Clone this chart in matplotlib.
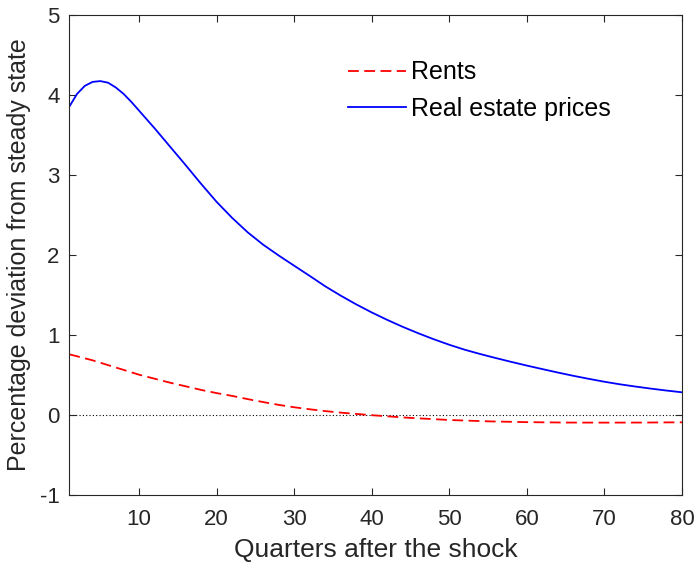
import matplotlib
matplotlib.use("Agg")
import matplotlib.pyplot as plt

# Impulse responses (quarters after the shock)
q_prices = [1, 2, 3, 4, 5, 6, 7, 8, 9, 10, 12, 14, 16, 18, 20, 22, 24, 26, 28, 30,
            32, 34, 36, 38, 40, 42, 44, 46, 48, 50, 52, 54, 56, 58, 60, 62, 64, 66,
            68, 70, 72, 74, 76, 78, 80]
prices = [3.85, 4.01, 4.11, 4.16, 4.17, 4.15, 4.09, 4.01, 3.91, 3.80, 3.58, 3.35,
          3.12, 2.885, 2.66, 2.46, 2.28, 2.125, 1.99, 1.862, 1.735, 1.605, 1.488,
          1.379, 1.278, 1.185, 1.098, 1.018, 0.943, 0.874, 0.812, 0.758, 0.708,
          0.66, 0.614, 0.57, 0.527, 0.486, 0.448, 0.412, 0.38, 0.352, 0.326, 0.302,
          0.28]

q_rents = [1, 2, 4, 6, 8, 10, 12, 14, 16, 18, 20, 22, 24, 26, 28, 30, 32, 34, 36,
           38, 40, 42, 45, 50, 55, 60, 65, 70, 75, 80]
rents = [0.755, 0.73, 0.68, 0.62, 0.56, 0.50, 0.45, 0.40, 0.355, 0.31, 0.27, 0.235,
         0.195, 0.158, 0.123, 0.093, 0.068, 0.045, 0.026, 0.01, -0.006, -0.02,
         -0.04, -0.066, -0.083, -0.093, -0.098, -0.099, -0.098, -0.095]

plt.rcParams['font.family'] = ['Liberation Sans', 'DejaVu Sans']
plt.rcParams['axes.unicode_minus'] = False

fig = plt.figure(figsize=(6.95, 5.65), dpi=100)
ax = fig.add_axes([0.0997, 0.1244, 0.8816, 0.8496])

ax.axhline(0, color='black', linestyle=(0, (1, 2)), linewidth=0.8, zorder=1)
ax.plot(q_rents, rents, color='#ff0000', linestyle=(0, (6, 3)), linewidth=1.3,
        label='Rents')
ax.plot(q_prices, prices, color='#0000ff', linewidth=1.3, label='Real estate prices')

ax.set_xlim(1, 80)
ax.set_ylim(-1, 5)
ax.set_xticks([10, 20, 30, 40, 50, 60, 70, 80])
ax.set_yticks([-1, 0, 1, 2, 3, 4, 5])

ax.tick_params(direction='in', length=5, width=0.8, colors='#262626',
               labelsize=16, top=True, right=True)
ax.tick_params(axis='x', pad=10)
ax.tick_params(axis='y', pad=7)
for s in ax.spines.values():
    s.set_color('#262626')
    s.set_linewidth(0.8)

ax.set_xlabel('Quarters after the shock', fontsize=19, color='#262626', labelpad=6)
ax.set_ylabel('Percentage deviation from steady state', fontsize=18,
              color='#262626', labelpad=6)

ax.legend(loc='upper left', bbox_to_anchor=(0.455, 0.905), frameon=False,
          fontsize=18, handlelength=2.3, handletextpad=0.2, labelspacing=0.5,
          borderpad=0, borderaxespad=0)

fig.savefig('out.png', dpi=100)
